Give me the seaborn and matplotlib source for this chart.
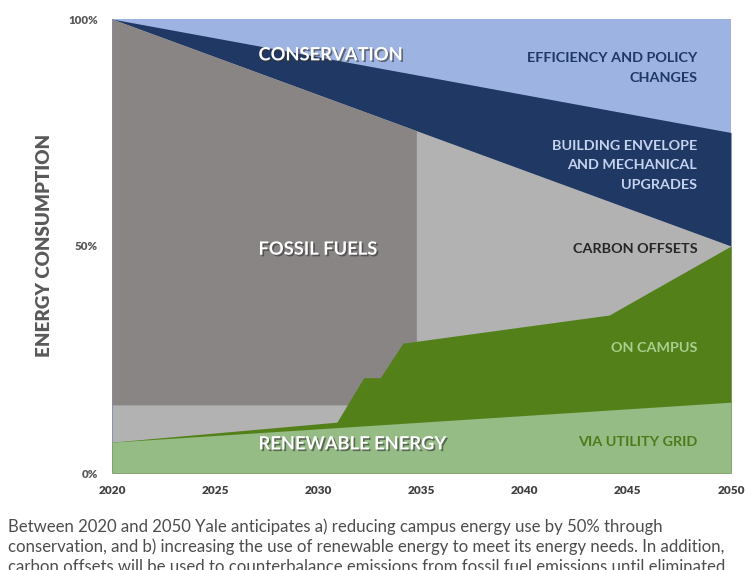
import numpy as np
import matplotlib
matplotlib.use('Agg')
import matplotlib.pyplot as plt
import matplotlib.patheffects as pe
import seaborn as sns

# --- data (percent of 2020 energy use) ---
years_span = [2020, 2050]
conservation_top = [100, 75]          # boundary: efficiency/policy vs envelope upgrades
total_consumption = [100, 50]         # remaining energy consumption
fossil_years = [2020, 2034.75]
fossil_bottom = [15, 15]
fossil_top = [100, 75.4]
utility_grid = [6.8, 15.6]            # renewable via utility grid
campus_years = [2020, 2030.9, 2032.2, 2033.0, 2034.1, 2044.1, 2050]
renewable_total = [6.8, 11.2, 21.0, 21.0, 28.6, 34.8, 50.0]   # utility + on campus

xticks = [2020, 2025, 2030, 2035, 2040, 2045, 2050]
yticks = [0, 50, 100]
ytick_labels = ['0%', '50%', '100%']

colors = {
    'efficiency': '#9DB4E2',
    'envelope': '#1F3864',
    'offsets': '#B2B2B2',
    'fossil': '#8A8585',
    'campus': '#538019',
    'utility': '#94BC84',
}

sns.set_theme(style='white')
plt.rcParams['font.family'] = ['Lato', 'DejaVu Sans']

fig = plt.figure(figsize=(7.45, 5.7), dpi=100)
ax = fig.add_axes([112 / 745, 97 / 570, 619 / 745, 454 / 570])

# layered fills, back to front
ax.fill_between(years_span, 0, 100, color=colors['efficiency'], lw=0)
ax.fill_between(years_span, 0, conservation_top, color=colors['envelope'], lw=0)
ax.fill_between(years_span, 0, total_consumption, color=colors['offsets'], lw=0)
ax.fill_between(fossil_years, fossil_bottom, fossil_top, color=colors['fossil'], lw=0)
ax.fill_between(campus_years, 0, renewable_total, color=colors['campus'], lw=0)
ax.fill_between(years_span, 0, utility_grid, color=colors['utility'], lw=0)

ax.set_xlim(2020, 2050)
ax.set_ylim(0, 100)
ax.set_xticks(xticks)
ax.set_xticklabels([str(x) for x in xticks], fontsize=8.5, fontweight='heavy', color='#404040')
ax.set_yticks(yticks)
ax.set_yticklabels(ytick_labels, fontsize=8.3, fontweight='heavy', color='#595959')
ax.tick_params(axis='y', length=0, pad=10)
ax.tick_params(axis='x', length=0, pad=9)
for s in ax.spines.values():
    s.set_visible(False)
ax.set_ylabel('ENERGY CONSUMPTION', fontsize=13.5, fontweight='heavy', color='#595959')
ax.yaxis.label.set_va('center')
ax.yaxis.set_label_coords((45 - 112) / 619, (473 - 245) / 454)

shadow = [pe.SimplePatchShadow(offset=(1.2, -1.2), shadow_rgbFace='#333333', alpha=0.6), pe.Normal()]
for txt, y in [('CONSERVATION', 92.1), ('FOSSIL FUELS', 49.3), ('RENEWABLE ENERGY', 6.4)]:
    ax.text(2027.1, y, txt, fontsize=13.2, fontweight='bold', color='white',
            va='center', ha='left', path_effects=shadow)

right_x = 2048.36
ax.text(right_x, 89.2, 'EFFICIENCY AND POLICY\nCHANGES', fontsize=10.4, fontweight='bold',
        color='#1F3864', ha='right', va='center', linespacing=1.75, multialignment='right')
ax.text(right_x, 67.8, 'BUILDING ENVELOPE\nAND MECHANICAL\nUPGRADES', fontsize=10.4, fontweight='bold',
        color='#C5D3EE', ha='right', va='center', linespacing=1.75, multialignment='right')
ax.text(right_x, 49.3, 'CARBON OFFSETS', fontsize=10.4, fontweight='bold', color='#262626',
        ha='right', va='center')
ax.text(right_x, 27.6, 'ON CAMPUS', fontsize=10.4, fontweight='bold', color='#A9CF8E',
        ha='right', va='center')
ax.text(right_x, 6.8, 'VIA UTILITY GRID', fontsize=10.4, fontweight='bold', color='#4E7A1A',
        ha='right', va='center')

caption = ('Between 2020 and 2050 Yale anticipates a) reducing campus energy use by 50% through\n'
           'conservation, and b) increasing the use of renewable energy to meet its energy needs. In addition,\n'
           'carbon offsets will be used to counterbalance emissions from fossil fuel emissions until eliminated.')
fig.text(8 / 745, 1 - 518 / 570, caption, fontsize=12.1, color='#4d4d4d', ha='left', va='top',
         linespacing=1.3)

fig.savefig('out.png', dpi=100)
